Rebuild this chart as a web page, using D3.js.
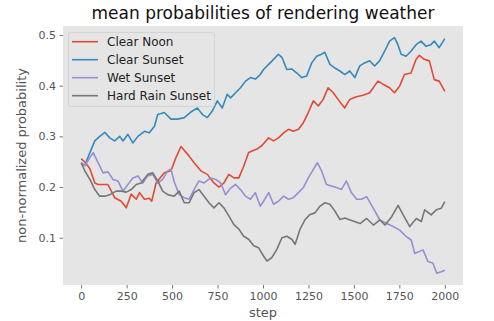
<!DOCTYPE html>
<html>
<head>
<meta charset="utf-8">
<script src="https://cdn.jsdelivr.net/npm/d3@7"></script>
<style>
  body { margin: 0; background: #fff; }
  text { font-family: "DejaVu Sans", sans-serif; }
</style>
</head>
<body>
<div class="container"></div>
<script>
// [step, value] pairs
var clearNoon = [[0,0.256],[24,0.248],[48,0.236],[75,0.208],[93,0.205],[147,0.205],[166,0.192],[184,0.179],[220,0.172],[248,0.159],[275,0.186],[303,0.176],[321,0.189],[348,0.176],[375,0.178],[388,0.172],[412,0.208],[457,0.228],[494,0.232],[521,0.258],[549,0.280],[594,0.261],[621,0.248],[658,0.232],[694,0.225],[730,0.208],[758,0.200],[785,0.208],[812,0.225],[840,0.218],[867,0.218],[894,0.241],[921,0.268],[940,0.271],[967,0.275],[994,0.282],[1031,0.297],[1058,0.291],[1085,0.297],[1113,0.307],[1140,0.314],[1167,0.310],[1195,0.314],[1222,0.327],[1249,0.347],[1277,0.370],[1304,0.360],[1331,0.373],[1358,0.396],[1386,0.386],[1413,0.373],[1449,0.356],[1477,0.373],[1514,0.378],[1550,0.381],[1587,0.386],[1632,0.409],[1660,0.403],[1696,0.396],[1723,0.386],[1751,0.399],[1778,0.422],[1814,0.425],[1842,0.452],[1860,0.460],[1887,0.452],[1915,0.449],[1942,0.412],[1969,0.409],[2000,0.389]];

var clearSunset = [[0,0.247],[20,0.243],[48,0.268],[75,0.291],[102,0.300],[130,0.308],[157,0.297],[184,0.291],[212,0.300],[230,0.291],[257,0.304],[284,0.287],[312,0.300],[348,0.310],[375,0.307],[403,0.320],[421,0.343],[440,0.345],[457,0.347],[494,0.334],[530,0.334],[567,0.337],[603,0.348],[639,0.356],[667,0.343],[694,0.337],[721,0.350],[749,0.370],[776,0.356],[803,0.383],[822,0.376],[849,0.386],[876,0.396],[904,0.409],[931,0.416],[958,0.413],[985,0.422],[1003,0.432],[1031,0.442],[1058,0.452],[1085,0.462],[1104,0.456],[1131,0.432],[1158,0.433],[1186,0.425],[1213,0.416],[1240,0.419],[1268,0.445],[1295,0.458],[1322,0.462],[1340,0.466],[1368,0.442],[1395,0.435],[1423,0.429],[1450,0.422],[1477,0.429],[1505,0.416],[1532,0.439],[1559,0.445],[1587,0.449],[1614,0.439],[1641,0.449],[1669,0.468],[1696,0.488],[1723,0.495],[1742,0.481],[1760,0.462],[1787,0.458],[1814,0.468],[1842,0.481],[1869,0.488],[1896,0.478],[1924,0.481],[1942,0.488],[1969,0.475],[2000,0.493]];

var wetSunset = [[0,0.248],[20,0.242],[48,0.258],[66,0.268],[93,0.248],[120,0.228],[148,0.230],[175,0.215],[202,0.212],[230,0.192],[257,0.205],[284,0.218],[312,0.222],[339,0.208],[366,0.222],[394,0.225],[421,0.208],[448,0.215],[476,0.232],[494,0.235],[512,0.210],[539,0.185],[567,0.179],[594,0.176],[621,0.195],[648,0.212],[676,0.208],[712,0.218],[740,0.215],[767,0.208],[794,0.185],[822,0.198],[849,0.205],[876,0.195],[904,0.182],[931,0.176],[958,0.189],[985,0.162],[1003,0.172],[1031,0.189],[1058,0.166],[1085,0.172],[1113,0.182],[1140,0.176],[1167,0.179],[1195,0.189],[1222,0.199],[1249,0.218],[1277,0.235],[1299,0.248],[1322,0.232],[1349,0.205],[1377,0.202],[1404,0.199],[1431,0.195],[1459,0.212],[1486,0.189],[1515,0.176],[1541,0.176],[1570,0.181],[1607,0.158],[1643,0.135],[1680,0.128],[1716,0.122],[1752,0.115],[1789,0.102],[1816,0.095],[1834,0.069],[1880,0.076],[1907,0.053],[1934,0.050],[1956,0.030],[1980,0.033],[2000,0.036]];

var hardRainSunset = [[0,0.248],[20,0.232],[48,0.215],[75,0.195],[102,0.182],[130,0.182],[157,0.185],[193,0.192],[220,0.192],[248,0.190],[275,0.195],[303,0.205],[330,0.208],[366,0.225],[394,0.228],[421,0.212],[448,0.192],[476,0.185],[512,0.182],[539,0.192],[567,0.169],[594,0.169],[621,0.189],[648,0.195],[676,0.182],[703,0.169],[730,0.159],[758,0.169],[785,0.159],[812,0.143],[840,0.126],[867,0.117],[894,0.103],[921,0.097],[949,0.084],[976,0.080],[1003,0.064],[1022,0.054],[1049,0.061],[1076,0.077],[1104,0.100],[1131,0.103],[1158,0.097],[1177,0.087],[1204,0.117],[1232,0.136],[1259,0.146],[1286,0.149],[1313,0.162],[1340,0.169],[1368,0.166],[1395,0.153],[1423,0.136],[1450,0.139],[1479,0.135],[1534,0.128],[1570,0.138],[1607,0.125],[1643,0.135],[1671,0.125],[1707,0.141],[1743,0.164],[1771,0.145],[1807,0.122],[1843,0.138],[1871,0.132],[1889,0.155],[1925,0.145],[1953,0.155],[1980,0.158],[2000,0.171]];

var seriesNames = ['Clear Noon', 'Clear Sunset', 'Wet Sunset', 'Hard Rain Sunset'];
var seriesColors = ['#E24A33', '#348ABD', '#988ED5', '#777777'];
var xTicks = [0, 250, 500, 750, 1000, 1250, 1500, 1750, 2000];
var yTicks = [0.1, 0.2, 0.3, 0.4, 0.5];

buildChart();

function buildChart() {
  var w = 494;
  var h = 321;
  var left = 63, right = 463, top = 26, bottom = 285;
  var allSeries = [clearNoon, clearSunset, wetSunset, hardRainSunset];

  var svg = d3.select('.container')
    .append('svg')
    .attr('width', w)
    .attr('height', h);

  var xScale = d3.scaleLinear()
    .domain([-100, 2100])
    .range([left, right]);

  var yScale = d3.scaleLinear()
    .domain([0.0067, 0.5178])
    .range([bottom, top]);

  // plot background
  svg.append('rect')
    .attr('x', left)
    .attr('y', top)
    .attr('width', right - left)
    .attr('height', bottom - top)
    .attr('fill', '#E5E5E5');

  /* Axes */
  var xAxis = d3.axisBottom(xScale)
    .tickValues(xTicks)
    .tickFormat(d3.format('d'))
    .tickSize(3.5)
    .tickPadding(3.5);

  var yAxis = d3.axisLeft(yScale)
    .tickValues(yTicks)
    .tickFormat(d3.format('.1f'))
    .tickSize(3.5)
    .tickPadding(3.5);

  var gx = svg.append('g')
    .attr('transform', 'translate(0,' + bottom + ')')
    .call(xAxis);
  var gy = svg.append('g')
    .attr('transform', 'translate(' + left + ',0)')
    .call(yAxis);

  [gx, gy].forEach(function(g) {
    g.select('.domain').remove();
    g.selectAll('line').attr('stroke', '#555555').attr('stroke-width', 0.8);
    g.selectAll('text')
      .attr('fill', '#555555')
      .style('font-size', '11px')
      .style('font-family', '"DejaVu Sans", sans-serif');
  });

  /* Lines */
  var line = d3.line()
    .x(function(d) { return xScale(d[0]); })
    .y(function(d) { return yScale(d[1]); });

  svg.selectAll('path.series')
    .data(allSeries)
    .enter()
    .append('path')
    .attr('class', 'series')
    .attr('d', line)
    .attr('fill', 'none')
    .attr('stroke', function(d, i) { return seriesColors[i]; })
    .attr('stroke-width', 1.6)
    .attr('stroke-linejoin', 'round');

  /* Legend */
  var legend = svg.append('g');
  legend.append('rect')
    .attr('x', 68.5)
    .attr('y', 32.5)
    .attr('width', 146)
    .attr('height', 74)
    .attr('rx', 2)
    .attr('fill', '#E5E5E5')
    .attr('stroke', '#CFCFCF')
    .attr('stroke-width', 0.8);

  seriesNames.forEach(function(name, i) {
    var ly = 41.7 + i * 18;
    legend.append('line')
      .attr('x1', 72).attr('x2', 98)
      .attr('y1', ly).attr('y2', ly)
      .attr('stroke', seriesColors[i])
      .attr('stroke-width', 1.6);
    legend.append('text')
      .attr('x', 107)
      .attr('y', ly + 4.3)
      .attr('fill', '#222')
      .style('font-size', '12px')
      .text(name);
  });

  /* Titles */
  svg.append('text')
    .attr('x', (left + right) / 2)
    .attr('y', 19)
    .attr('text-anchor', 'middle')
    .attr('fill', '#111')
    .style('font-size', '17px')
    .text('mean probabilities of rendering weather');

  svg.append('text')
    .attr('x', (left + right) / 2)
    .attr('y', 317)
    .attr('text-anchor', 'middle')
    .attr('fill', '#555555')
    .style('font-size', '13px')
    .text('step');

  svg.append('text')
    .attr('transform', 'translate(26,' + (top + bottom) / 2 + ') rotate(-90)')
    .attr('text-anchor', 'middle')
    .attr('fill', '#555555')
    .style('font-size', '13px')
    .text('non-normalized probability');
}
</script>
</body>
</html>
